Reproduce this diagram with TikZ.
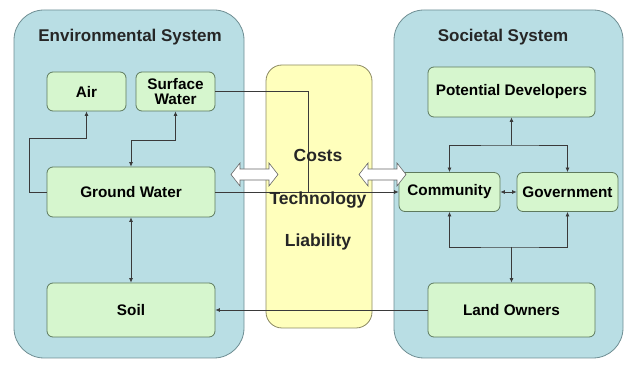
\documentclass[tikz,border=0pt]{standalone}
\usepackage{fontspec}
\setmainfont{Liberation Sans}
\usetikzlibrary{arrows.meta}
\definecolor{sysfill}{HTML}{B9DEE4}
\definecolor{sysdraw}{HTML}{6F8E93}
\definecolor{boxfill}{HTML}{D6F6CE}
\definecolor{boxdraw}{HTML}{5E7A5E}
\definecolor{midfill}{HTML}{FFFFBC}
\definecolor{middraw}{HTML}{8C8A62}
\definecolor{linecol}{HTML}{3A3A3A}
\tikzset{
  sysbox/.style={draw=sysdraw, fill=sysfill, line width=0.8pt, rounded corners=30pt},
  midbox/.style={draw=middraw, fill=midfill, line width=0.8pt, rounded corners=16pt},
  item/.style={draw=boxdraw, fill=boxfill, line width=0.8pt, rounded corners=6pt,
    inner sep=1pt, align=center, font=\bfseries\fontsize{15.3}{17}\selectfont},
  title/.style={font=\bfseries\fontsize{17}{20}\selectfont, text=black!85},
  midtext/.style={font=\bfseries\fontsize{17.5}{20}\selectfont, text=black!85},
  conn/.style={draw=linecol, line width=0.7pt, -{Latex[length=4.5pt,width=4pt]}},
  both/.style={conn, {Latex[length=4.5pt,width=4pt]}-{Latex[length=4.5pt,width=4pt]}},
  plain/.style={draw=linecol, line width=0.7pt},
  % hollow two-headed block arrow, 47 long, centred on its position
  flowarrow/.pic={
    \draw[draw=gray!80!black, fill=white, line width=0.6pt, line join=miter]
      (-23.5,0) -- (-14.5,-11.5) -- (-14.5,-5.5) -- (14.5,-5.5) -- (14.5,-11.5)
      -- (23.5,0) -- (14.5,11.5) -- (14.5,5.5) -- (-14.5,5.5) -- (-14.5,11.5) -- cycle;
  }
}
\begin{document}
\begin{tikzpicture}[x=1pt,y=-1pt]
\useasboundingbox (0,0) rectangle (625,366);
% the two system panels and the shared middle panel
\node[sysbox, minimum width=230pt, minimum height=348pt] (env) at (129,184) {};
\node[sysbox, minimum width=229pt, minimum height=348pt] (soc) at (508.5,184) {};
\node[midbox, minimum width=106pt, minimum height=263pt] (mid) at (319,196.5) {};
\node[title] (envt) at (130,37) {Environmental System};
\node[title] (soct) at (503,37) {Societal System};
% environmental components
\node[item, minimum width=79pt, minimum height=39pt] (air) at (86.5,91.5) {Air};
\node[item, minimum width=79pt, minimum height=39pt] (sw) at (175.5,91.5) {Surface\\[-2pt]Water};
\node[item, minimum width=168pt, minimum height=50pt] (gw) at (131,192) {Ground Water};
\node[item, minimum width=168pt, minimum height=54pt] (soil) at (131,310) {Soil};
% societal components
\node[item, minimum width=167pt, minimum height=50pt] (pd) at (511.5,92) {Potential Developers};
\node[item, minimum width=101pt, minimum height=39pt] (com) at (449.5,192) {Community};
\node[item, minimum width=101pt, minimum height=39pt] (gov) at (567.5,192) {Government};
\node[item, minimum width=167pt, minimum height=54pt] (lo) at (511.5,310) {Land Owners};
% exchange arrows between the panels
\pic at (254.5,174.5) {flowarrow};
\pic at (382.5,174.5) {flowarrow};
% routing points
\coordinate (a1) at (29,138);
\coordinate (j1) at (131,140);
\coordinate (j2) at (308,192);
\coordinate (j3) at (511.5,145);
\coordinate (j4) at (511.5,247);
% connectors
\draw[conn] (gw.west) -| (a1) -| (air.south);
\draw[both] (sw.south) |- (j1) -- (gw.north);
\draw[both] (gw.south) -- (soil.north);
\draw[plain] (sw.east) -| (j2);
\draw[conn] (gw.east) -- (com.west);
\draw[conn] (lo.west) -- (soil.east);
\draw[conn] (j3) -- (pd.south);
\draw[both] (com.north) |- (j3) -| (gov.north);
\draw[both] (com.east) -- (gov.west);
\draw[both] (com.south) |- (j4) -| (gov.south);
\draw[conn] (j4) -- (lo.north);
% middle panel factors
\node[midtext] (costs) at (318,155) {Costs};
\node[midtext] (tech) at (318,200) {Technology};
\node[midtext] (liab) at (318,242) {Liability};
\end{tikzpicture}
\end{document}
